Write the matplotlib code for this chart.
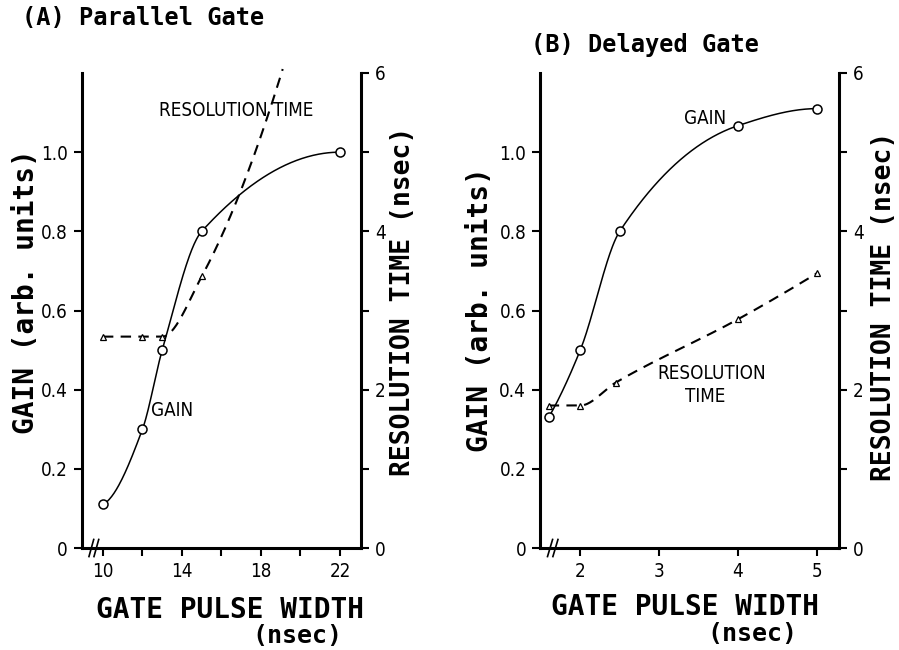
import numpy as np
import matplotlib
matplotlib.use('Agg')
import matplotlib.pyplot as plt

# (A) Parallel gate
gain_a_x = [10, 12, 13, 15, 22]
gain_a_y = [0.11, 0.30, 0.50, 0.80, 1.00]
res_a_x = [10, 12, 13, 15, 19.1]          # last point: where the dashed line leaves the frame
res_a_y = [2.67, 2.67, 2.67, 3.43, 6.05]
res_a_marked = 4

# (B) Delayed gate
gain_b_x = [1.6, 2.0, 2.5, 4.0, 5.0]
gain_b_y = [0.33, 0.50, 0.80, 1.067, 1.11]
res_b_x = [1.6, 2.0, 2.45, 4.0, 5.0]
res_b_y = [1.80, 1.80, 2.09, 2.89, 3.47]
res_b_marked = 5

gain_ticks = [0, 0.2, 0.4, 0.6, 0.8, 1.0]
gain_labels = ['0', '0.2', '0.4', '0.6', '0.8', '1.0']
res_ticks = [0, 1, 2, 3, 4, 5, 6]
res_labels = ['0', '', '2', '', '4', '', '6']
xa_ticks = [10, 14, 18, 22]
xa_minor = [12, 16, 20]
xb_ticks = [2, 3, 4, 5]

MONO = 'DejaVu Sans Mono'
NARROW = dict(family='DejaVu Sans', stretch='condensed')


def pchip(x, y, xs):
    # monotone cubic through the read points, like a hand-drawn french curve
    x = np.asarray(x, float)
    y = np.asarray(y, float)
    h = np.diff(x)
    d = np.diff(y) / h
    m = np.zeros_like(y)
    for k in range(1, len(x) - 1):
        if d[k - 1] * d[k] > 0:
            w1 = 2 * h[k] + h[k - 1]
            w2 = h[k] + 2 * h[k - 1]
            m[k] = (w1 + w2) / (w1 / d[k - 1] + w2 / d[k])

    def ende(h0, h1, d0, d1):
        s = ((2 * h0 + h1) * d0 - h0 * d1) / (h0 + h1)
        if np.sign(s) != np.sign(d0):
            return 0.0
        if np.sign(d0) != np.sign(d1) and abs(s) > abs(3 * d0):
            return 3 * d0
        return s

    m[0] = ende(h[0], h[1], d[0], d[1])
    m[-1] = ende(h[-1], h[-2], d[-1], d[-2])
    xs = np.asarray(xs, float)
    k = np.clip(np.searchsorted(x, xs) - 1, 0, len(x) - 2)
    t = (xs - x[k]) / h[k]
    h00 = 2 * t**3 - 3 * t**2 + 1
    h10 = t**3 - 2 * t**2 + t
    h01 = -2 * t**3 + 3 * t**2
    h11 = t**3 - t**2
    return h00 * y[k] + h10 * h[k] * m[k] + h01 * y[k + 1] + h11 * h[k] * m[k + 1]


def panel(ax, gx, gy, rx, ry, n_marked, xlim, xticks, xminor):
    ax2 = ax.twinx()
    ax.set_xlim(*xlim)
    ax.set_ylim(0, 1.2)
    ax2.set_ylim(0, 6)

    xs = np.linspace(gx[0], gx[-1], 300)
    ax.plot(xs, pchip(gx, gy, xs), color='black', lw=1.1, zorder=2)
    ax.plot(gx, gy, 'o', ms=6.5, mfc='white', mec='black', mew=1.1, zorder=3)

    xs = np.linspace(rx[0], rx[-1], 300)
    ax2.plot(xs, pchip(rx, ry, xs), color='black', lw=1.5,
             dashes=(5, 3.5), clip_on=False, zorder=2)
    ax2.plot(rx[:n_marked], ry[:n_marked], '^', ms=5, mfc='white',
             mec='black', mew=0.9, zorder=3)

    for a in (ax, ax2):
        a.spines['top'].set_visible(False)
        for s in ('left', 'right', 'bottom'):
            a.spines[s].set_linewidth(2.2)
    ax.spines['right'].set_visible(False)
    ax2.spines['left'].set_visible(False)
    ax2.spines['bottom'].set_visible(False)

    ax.set_yticks(gain_ticks)
    ax.set_yticklabels(gain_labels)
    ax2.set_yticks(res_ticks)
    ax2.set_yticklabels(res_labels)
    ax.set_xticks(xticks)
    ax.set_xticks(xminor, minor=True)
    ax.tick_params(axis='both', which='both', direction='out', length=6,
                   width=1.5, labelsize=13.5, pad=4)
    ax2.tick_params(axis='y', direction='out', length=6, width=1.5,
                    labelsize=13.5, pad=4)
    for lab in ax.get_xticklabels() + ax.get_yticklabels() + ax2.get_yticklabels():
        lab.set_family(NARROW['family'])
        lab.set_stretch(NARROW['stretch'])

    # axis break on the x axis
    for dx in (0.0, 0.018):
        ax.plot([0.025 + dx, 0.042 + dx], [-0.018, 0.018], color='black',
                lw=1.2, transform=ax.transAxes, clip_on=False)
    return ax2


fig = plt.figure(figsize=(8.99, 6.5), dpi=100)
axA = fig.add_axes([0.0912, 0.1569, 0.3103, 0.7308])
axB = fig.add_axes([0.6007, 0.1569, 0.3326, 0.7308])

panel(axA, gain_a_x, gain_a_y, res_a_x, res_a_y, res_a_marked,
      (8.94, 23.06), xa_ticks, xa_minor)
panel(axB, gain_b_x, gain_b_y, res_b_x, res_b_y, res_b_marked,
      (1.49, 5.28), xb_ticks, [])


def ftext(px, py, s, **kw):
    fig.text(px / 899, 1 - py / 650, s, ha='center', va='center', **kw)


ftext(143, 18, '(A) Parallel Gate', family=MONO, fontsize=17, weight='bold')
ftext(645, 45, '(B) Delayed Gate', family=MONO, fontsize=17, weight='bold')

ftext(26, 292, 'GAIN (arb. units)', family=MONO, fontsize=20, weight='bold', rotation=90)
ftext(480, 310, 'GAIN (arb. units)', family=MONO, fontsize=20, weight='bold', rotation=90)
ftext(403, 301, 'RESOLUTION TIME (nsec)', family=MONO, fontsize=19, weight='bold', rotation=90)
ftext(884, 306, 'RESOLUTION TIME (nsec)', family=MONO, fontsize=19, weight='bold', rotation=90)

ftext(230, 610, 'GATE PULSE WIDTH', family=MONO, fontsize=20, weight='bold')
ftext(297, 636, '(nsec)', family=MONO, fontsize=18, weight='bold')
ftext(685, 607, 'GATE PULSE WIDTH', family=MONO, fontsize=20, weight='bold')
ftext(752, 634, '(nsec)', family=MONO, fontsize=18, weight='bold')

ftext(236, 111, 'RESOLUTION TIME', fontsize=13.5, **NARROW)
ftext(172, 411, 'GAIN', fontsize=13.5, **NARROW)
ftext(705, 118, 'GAIN', fontsize=13.5, **NARROW)
ftext(712, 373, 'RESOLUTION', fontsize=13.5, **NARROW)
ftext(705, 397, 'TIME', fontsize=13.5, **NARROW)

fig.savefig('out.png', dpi=100)
